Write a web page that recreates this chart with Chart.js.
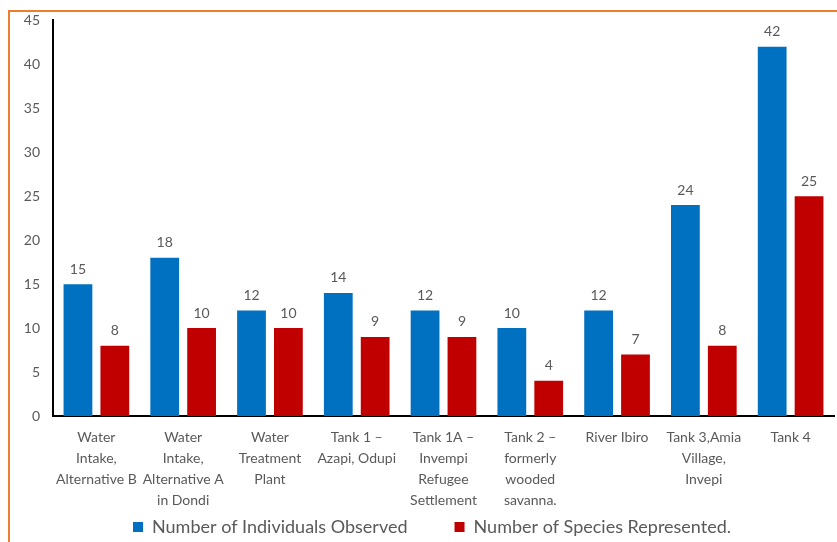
<!DOCTYPE html>
<html>
<head>
<meta charset="utf-8">
<script src="https://cdn.jsdelivr.net/npm/chart.js@4.4.0/dist/chart.umd.min.js"></script>
<style>
  html, body { margin: 0; padding: 0; background: #fff; overflow: hidden; }
  #frame {
    position: absolute; left: 8px; top: 10px;
    width: 829px; height: 532px;
    border-top: 2px solid #ED7D31; border-left: 2px solid #ED7D31;
  }
  #wrap { position: absolute; left: 0; top: -13px; width: 827px; height: 590px; }
</style>
</head>
<body>
<div id="frame"><div id="wrap"><canvas id="myChart"></canvas></div></div>
<script>
// sites along the pipeline route
var sites = [
  ["Water", "Intake,", "Alternative B"],
  ["Water", "Intake,", "Alternative A", "in Dondi"],
  ["Water", "Treatment", "Plant"],
  ["Tank 1 \u2013", "Azapi, Odupi"],
  ["Tank 1A \u2013", "Invempi", "Refugee", "Settlement"],
  ["Tank 2 \u2013", "formerly", "wooded", "savanna."],
  ["River Ibiro"],
  ["Tank 3,Amia", "Village,", "Invepi"],
  ["Tank 4"]
];
var individuals = [15, 18, 12, 14, 12, 10, 12, 24, 42];
var species = [8, 10, 10, 9, 9, 4, 7, 8, 25];
var yTicks = [0, 5, 10, 15, 20, 25, 30, 35, 40, 45];

var FONT = "Lato, 'Open Sans', sans-serif";
var GREY = "#595959";

// value written above every bar
var barValues = {
  id: "barValues",
  afterDatasetsDraw: function(chart) {
    var ctx = chart.ctx;
    ctx.save();
    ctx.font = "14px " + FONT;
    ctx.fillStyle = GREY;
    ctx.textAlign = "center";
    ctx.textBaseline = "bottom";
    chart.data.datasets.forEach(function(ds, i) {
      chart.getDatasetMeta(i).data.forEach(function(bar, j) {
        ctx.fillText(ds.data[j], bar.x, bar.y - 8);
      });
    });
    ctx.restore();
  }
};

// wide gap between legend items, but keep the row close to the labels
var legendLift = {
  id: "legendLift",
  afterLayout: function(chart) {
    var lg = chart.legend;
    lg.top -= 43;
    lg.bottom -= 43;
    lg.left += 10;
    lg.right += 10;
  }
};

var ctx = document.getElementById("myChart").getContext("2d");
var chart = new Chart(ctx, {
  type: "bar",
  data: {
    labels: sites,
    datasets: [
      {
        label: "Number of Individuals Observed",
        backgroundColor: "#0070C0",
        data: individuals
      },
      {
        label: "Number of Species Represented.",
        backgroundColor: "#C00000",
        data: species
      }
    ]
  },
  plugins: [barValues, legendLift],
  options: {
    responsive: true,
    maintainAspectRatio: false,
    animation: false,
    categoryPercentage: 0.85,
    barPercentage: 0.78,
    layout: { padding: { top: 0, right: 3, left: 0, bottom: 0 } },
    plugins: {
      tooltip: { enabled: false },
      legend: {
        position: "bottom",
        labels: {
          color: GREY,
          font: { family: FONT, size: 18 },
          boxWidth: 10,
          boxHeight: 10,
          padding: 47
        }
      }
    },
    scales: {
      x: {
        afterFit: function(s) { s.height = 98; },
        grid: { display: false, drawTicks: false },
        border: { color: "#000", width: 2 },
        ticks: {
          color: GREY,
          font: { family: FONT, size: 14, lineHeight: 1.5 },
          maxRotation: 0,
          autoSkip: false,
          padding: 11
        }
      },
      y: {
        min: 0,
        max: 45,
        afterFit: function(s) { s.width = 43; },
        afterBuildTicks: function(s) {
          s.ticks = yTicks.map(function(v) { return { value: v }; });
        },
        grid: { display: false, drawTicks: false },
        border: { color: "#000", width: 2 },
        ticks: {
          color: GREY,
          font: { family: FONT, size: 14 },
          padding: 13
        }
      }
    }
  }
});
</script>
</body>
</html>
